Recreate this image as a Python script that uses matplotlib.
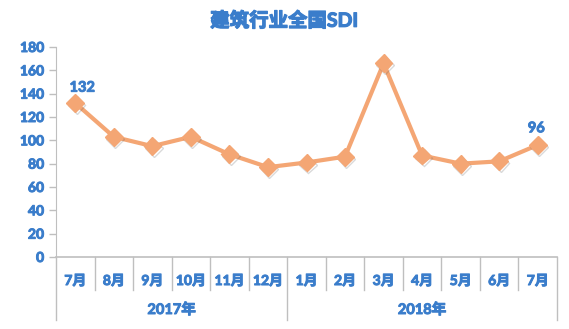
import matplotlib
matplotlib.use("Agg")
import matplotlib.pyplot as plt
import matplotlib.patheffects as pe
from matplotlib.lines import Line2D

plt.rcParams['font.family'] = ['Lato', 'Noto Sans CJK SC', 'DejaVu Sans']
plt.rcParams['font.weight'] = 'bold'

# 数据
months = ["7月", "8月", "9月", "10月", "11月", "12月",
          "1月", "2月", "3月", "4月", "5月", "6月", "7月"]
years = ["2017年", "2018年"]
year_spans = [(0, 6), (6, 13)]
sdi = [132, 103, 95, 103, 88, 77, 81, 86, 166, 87, 80, 82, 96]
labeled = [0, 12]

blue = "#3A7DCB"
orange = "#F4A674"
grey = "#BFBFBF"
thick = [pe.withStroke(linewidth=0.7, foreground=blue)]

fig = plt.figure(figsize=(5.69, 3.29), dpi=100)
ax = fig.add_axes([56 / 569, 72 / 329, 501 / 569, 210 / 329])

x = list(range(len(sdi)))
ax.plot(x, sdi, color=orange, lw=3, zorder=3)
ax.plot(x, sdi, ls="none", marker="D", ms=9, mfc=orange, mec=orange, zorder=4,
        path_effects=[pe.SimpleLineShadow(offset=(1, -1.5), shadow_color="#555555", alpha=0.22),
                      pe.Normal()])

offsets = {0: (5, 6), 12: (-1, 7)}
for i in labeled:
    ax.annotate(str(sdi[i]), (x[i], sdi[i]), xytext=offsets[i],
                textcoords="offset points", ha="center", va="bottom",
                color=blue, fontsize=10.5, path_effects=thick)

ax.set_xlim(-0.5, len(sdi) - 0.5)
ax.set_ylim(0, 180)
ax.set_yticks(range(0, 181, 20))
ax.tick_params(axis="y", colors=grey, labelcolor=blue, labelsize=10, length=5, width=1, direction="out")
for lab in ax.get_yticklabels():
    lab.set_path_effects(thick)
ax.set_xticks([])

for s in ["top", "right"]:
    ax.spines[s].set_visible(False)
ax.spines["left"].set_color(grey)
ax.spines["bottom"].set_color(grey)
ax.spines["bottom"].set_linewidth(1.2)

# 两级分类轴
n = len(sdi)
month_drop = -33 / 210
year_drop = -63 / 210
for k in range(n + 1):
    is_year = k in (0, 6, n)
    y1 = year_drop if is_year else month_drop
    ax.add_line(Line2D([k / n, k / n], [0, y1], transform=ax.transAxes,
                       color=grey, lw=1, clip_on=False))
for i, m in enumerate(months):
    ax.text((i + 0.5) / n, -24 / 210, m, transform=ax.transAxes, ha="center", va="center",
            color=blue, fontsize=10, path_effects=thick)
for yr, (a, b) in zip(years, year_spans):
    ax.text((a + b) / 2 / n, -53 / 210, yr, transform=ax.transAxes, ha="center", va="center",
            color=blue, fontsize=10.5, path_effects=thick)

fig.text(0.5, 1 - 20 / 329, "建筑行业全国SDI", ha="center", va="center",
         color=blue, fontsize=14, path_effects=[pe.withStroke(linewidth=0.9, foreground=blue)])

fig.savefig("out.png", dpi=100)
